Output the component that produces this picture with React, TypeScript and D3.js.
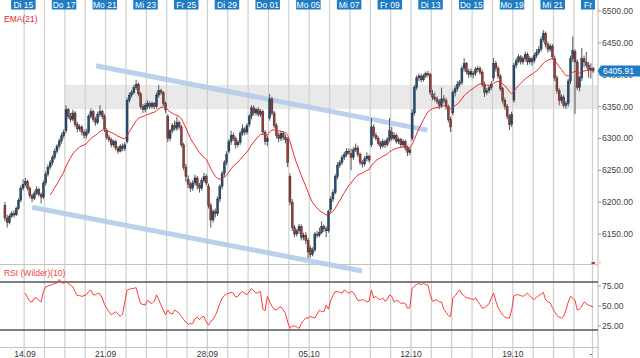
import React from "react";
import * as d3 from "d3";

const W = 640;
const H = 358;
const FONT = "'Liberation Sans', Arial, sans-serif";

// ---- axis / label data ----
const topDayLabels = ["Di 15", "Do 17", "Mo 21", "Mi 23", "Fr 25", "Di 29", "Do 01", "Mo 05", "Mi 07", "Fr 09", "Di 13", "Do 15", "Mo 19", "Mi 21", "Fr"];
const topDayIdx = [1, 3, 5, 7, 9, 11, 13, 15, 17, 19, 21, 23, 25, 27, 29];
const weekLabels = ["14.09", "21.09", "28.09", "05.10", "12.10", "19.10"];
const weekIdx = [0, 5, 10, 15, 20, 25];
const priceTicks = [6150, 6200, 6250, 6300, 6350, 6400, 6450, 6500];
const rsiTicks = [25, 50, 75];
const rsiBands = [20, 80];
const CPD = 9; // hourly candles per trading day
const NDAYS = 29;

// ---- OHLC data (hourly) ----
const dayOpens = [6195, 6228, 6230, 6312, 6305, 6312, 6295, 6350, 6335, 6236, 6225, 6280, 6322, 6332, 6240, 6128, 6188, 6276, 6290, 6310, 6300, 6370, 6340, 6400, 6395, 6360, 6422, 6425, 6436];

const closes = [
  6175, 6168, 6178, 6182, 6180, 6190, 6203, 6222, 6228,
  6232, 6222, 6210, 6206, 6214, 6220, 6212, 6208, 6230,
  6244, 6255, 6262, 6270, 6280, 6288, 6296, 6304, 6310,
  6345, 6335, 6330, 6340, 6322, 6315, 6318, 6310, 6305,
  6310, 6335, 6342, 6330, 6325, 6338, 6342, 6335, 6315,
  6302, 6298, 6290, 6295, 6285, 6280, 6288, 6284, 6290,
  6360, 6368, 6372, 6380, 6385, 6370, 6350, 6345, 6352,
  6355, 6350, 6355, 6350, 6368, 6375, 6372, 6355, 6345,
  6300, 6312, 6320, 6316, 6325, 6318, 6290, 6255, 6240,
  6228, 6222, 6230, 6238, 6226, 6222, 6234, 6240, 6230,
  6195, 6172, 6185, 6182, 6205, 6225, 6245, 6262, 6275,
  6295, 6305, 6300, 6290, 6294, 6308, 6315, 6310, 6320,
  6335, 6348, 6340, 6345, 6338, 6342, 6310, 6295, 6300,
  6362, 6340, 6320, 6305, 6300, 6308, 6302, 6298, 6262,
  6200, 6160, 6150, 6155, 6162, 6145, 6148, 6140, 6122,
  6118, 6125, 6150, 6148, 6152, 6162, 6158, 6155, 6185,
  6205, 6215, 6240, 6258, 6262, 6270, 6275, 6280, 6278,
  6270, 6282, 6285, 6275, 6262, 6260, 6268, 6272, 6266,
  6318, 6305, 6300, 6292, 6288, 6295, 6290, 6298, 6312,
  6300, 6305, 6295, 6298, 6290, 6295, 6285, 6278, 6282,
  6340, 6380, 6395, 6398, 6392, 6398, 6402, 6400, 6372,
  6365, 6362, 6358, 6352, 6362, 6360, 6350, 6330, 6318,
  6372, 6378, 6385, 6388, 6410, 6418, 6405, 6400, 6405,
  6402, 6408, 6410, 6404, 6385, 6372, 6375, 6380, 6385,
  6418, 6410, 6398, 6378, 6360, 6350, 6335, 6322, 6338,
  6415, 6422, 6428, 6420, 6425, 6432, 6420, 6425, 6420,
  6430, 6435, 6440, 6455, 6465, 6448, 6440, 6445, 6428,
  6395, 6375, 6360, 6365, 6352, 6355, 6390, 6425, 6438,
  6420, 6380, 6395, 6425, 6420, 6415, 6408, 6410, 6405.91,
];

const highs = [
  6200, 6180, 6181, 6186, 6187, 6193, 6206, 6226, 6236,
  6238, 6235, 6225, 6213, 6218, 6225, 6223, 6215, 6234,
  6248, 6259, 6266, 6274, 6284, 6291, 6300, 6308, 6314,
  6352, 6348, 6340, 6345, 6343, 6326, 6322, 6321, 6314,
  6315, 6338, 6347, 6345, 6334, 6342, 6352, 6345, 6338,
  6316, 6306, 6301, 6298, 6298, 6288, 6291, 6292, 6294,
  6364, 6372, 6376, 6384, 6392, 6388, 6373, 6354, 6356,
  6360, 6358, 6358, 6357, 6372, 6384, 6378, 6374, 6358,
  6338, 6315, 6324, 6328, 6334, 6328, 6321, 6293, 6260,
  6242, 6232, 6234, 6243, 6241, 6230, 6238, 6246, 6244,
  6229, 6199, 6189, 6190, 6209, 6228, 6249, 6266, 6280,
  6299, 6312, 6309, 6303, 6298, 6312, 6322, 6318, 6324,
  6338, 6352, 6352, 6348, 6349, 6346, 6345, 6313, 6304,
  6370, 6365, 6343, 6324, 6309, 6312, 6311, 6306, 6302,
  6245, 6205, 6164, 6158, 6166, 6165, 6152, 6153, 6144,
  6132, 6129, 6153, 6155, 6160, 6170, 6165, 6162, 6188,
  6209, 6220, 6244, 6262, 6266, 6274, 6279, 6285, 6284,
  6284, 6286, 6292, 6289, 6278, 6266, 6272, 6278, 6275,
  6332, 6322, 6309, 6304, 6296, 6299, 6298, 6302, 6332,
  6318, 6310, 6308, 6302, 6301, 6299, 6298, 6289, 6286,
  6346, 6384, 6399, 6402, 6401, 6401, 6405, 6406, 6403,
  6376, 6372, 6366, 6362, 6380, 6368, 6364, 6353, 6334,
  6376, 6383, 6390, 6392, 6414, 6426, 6420, 6409, 6410,
  6406, 6412, 6414, 6413, 6407, 6389, 6379, 6384, 6390,
  6426, 6422, 6414, 6401, 6381, 6364, 6354, 6338, 6342,
  6419, 6426, 6432, 6431, 6429, 6436, 6435, 6429, 6428,
  6434, 6440, 6445, 6460, 6470, 6468, 6452, 6449, 6448,
  6430, 6399, 6379, 6369, 6368, 6359, 6394, 6430, 6460,
  6440, 6424, 6398, 6442, 6430, 6436, 6420, 6418, 6412,
];

const lows = [
  6170, 6160, 6165, 6175, 6176, 6178, 6188, 6200, 6218,
  6224, 6218, 6206, 6200, 6203, 6211, 6209, 6198, 6205,
  6226, 6240, 6251, 6258, 6267, 6276, 6284, 6292, 6300,
  6308, 6331, 6326, 6327, 6318, 6310, 6311, 6305, 6300,
  6300, 6307, 6331, 6326, 6320, 6322, 6334, 6330, 6310,
  6298, 6294, 6286, 6287, 6281, 6276, 6278, 6280, 6280,
  6292, 6356, 6364, 6369, 6376, 6366, 6346, 6340, 6341,
  6346, 6346, 6347, 6346, 6347, 6364, 6368, 6351, 6340,
  6294, 6296, 6308, 6312, 6312, 6314, 6286, 6250, 6232,
  6222, 6216, 6218, 6226, 6220, 6215, 6218, 6230, 6226,
  6190, 6160, 6168, 6176, 6178, 6200, 6220, 6240, 6258,
  6276, 6290, 6296, 6284, 6286, 6290, 6304, 6305, 6306,
  6318, 6330, 6336, 6336, 6334, 6334, 6306, 6290, 6288,
  6328, 6336, 6316, 6300, 6294, 6296, 6297, 6292, 6255,
  6195, 6155, 6145, 6146, 6150, 6140, 6140, 6134, 6112,
  6113, 6115, 6122, 6144, 6145, 6150, 6153, 6145, 6152,
  6184, 6200, 6212, 6236, 6254, 6258, 6266, 6271, 6274,
  6250, 6266, 6279, 6271, 6258, 6254, 6256, 6264, 6262,
  6286, 6301, 6297, 6289, 6283, 6285, 6285, 6287, 6294,
  6296, 6297, 6292, 6291, 6286, 6286, 6281, 6272, 6274,
  6296, 6336, 6376, 6390, 6388, 6389, 6395, 6396, 6368,
  6360, 6358, 6354, 6346, 6348, 6355, 6345, 6325, 6310,
  6336, 6366, 6374, 6381, 6384, 6405, 6401, 6395, 6396,
  6394, 6398, 6404, 6400, 6381, 6365, 6368, 6371, 6376,
  6390, 6405, 6394, 6374, 6355, 6345, 6330, 6313, 6318,
  6356, 6410, 6418, 6416, 6416, 6421, 6415, 6416, 6414,
  6418, 6426, 6431, 6436, 6451, 6443, 6435, 6436, 6424,
  6390, 6370, 6352, 6355, 6348, 6346, 6350, 6385, 6420,
  6338, 6376, 6374, 6390, 6412, 6410, 6395, 6394, 6403,
];

// RSI (Wilder)(10) values, starting at candle RSI_START
const RSI_START = 9;
const rsiValues = [
  66, 60, 56, 55, 60, 60, 57, 55, 68,
  74, 75, 76, 77, 78, 79, 83, 80, 78,
  81, 78, 76, 74, 68, 63, 63, 62, 63,
  64, 68, 70, 64, 64, 66, 65, 60, 52,
  47, 43, 39, 41, 43, 40, 37, 40, 55,
  70, 71, 72, 72, 73, 62, 53, 52, 51,
  57, 55, 53, 56, 64, 58, 51, 45, 39,
  45, 41, 40, 45, 43, 41, 37, 33, 30,
  27, 28, 28, 34, 36, 33, 36, 37, 30,
  26, 31, 33, 38, 45, 53, 60, 63, 65,
  66, 67, 66, 61, 62, 66, 68, 66, 64,
  68, 72, 69, 66, 67, 68, 46, 44, 62,
  55, 50, 46, 45, 48, 49, 45, 41, 30,
  22, 25, 25, 24, 22, 28, 32, 35, 35,
  37, 36, 35, 40, 45, 43, 43, 51, 46,
  57, 63, 68, 68, 67, 66, 70, 68, 66,
  68, 67, 62, 57, 57, 58, 57, 55, 56,
  70, 60, 62, 59, 58, 60, 56, 58, 64,
  62, 55, 57, 56, 53, 54, 53, 47, 48,
  72, 75, 77, 78, 77, 78, 77, 76, 64,
  56, 57, 58, 55, 55, 46, 42, 38, 37,
  60, 63, 67, 70, 65, 63, 60, 60, 59,
  58, 60, 56, 52, 47, 48, 50, 53, 60,
  66, 56, 48, 43, 39, 36, 35, 35, 45,
  63, 64, 64, 63, 62, 64, 66, 63, 60,
  58, 61, 63, 65, 67, 58, 55, 54, 48,
  43, 38, 36, 35, 37, 45, 55, 62, 60,
  57, 45, 46, 50, 55, 53, 51, 50, 49,
];

// drawn objects in data coordinates (day index, price)
const zone = { fromDay: 3, low: 6346, high: 6384 };
const upperChannel = [{ day: 4.53, price: 6414 }, { day: 20.8, price: 6313 }];
const lowerChannel = [{ day: 1.39, price: 6192 }, { day: 17.6, price: 6092 }];
const EMA_PERIOD = 21;

function ema(values: number[], n: number): (number | null)[] {
  const k = 2 / (n + 1);
  const out: (number | null)[] = [];
  let prev = 0;
  values.forEach((v, i) => {
    if (i < n - 1) out.push(null);
    else if (i === n - 1) {
      prev = d3.mean(values.slice(0, n)) as number;
      out.push(prev);
    } else {
      prev = v * k + prev * (1 - k);
      out.push(prev);
    }
  });
  return out;
}

export default function App() {
  const plotRight = 598;
  const x0 = 3.8;
  const dayW = 20.36;
  const xDay = d3.scaleLinear().domain([0, NDAYS]).range([x0, x0 + NDAYS * dayW]);
  const xC = d3.scaleLinear().domain([0, NDAYS * CPD]).range([x0, x0 + NDAYS * dayW]);
  const yP = d3.scaleLinear().domain([6150, 6500]).range([234, 11]);
  const yR = d3.scaleLinear().domain([0, 100]).range([346, 266]);

  const candles = closes.map((c, i) => {
    const day = Math.floor(i / CPD);
    const o = i % CPD === 0 ? dayOpens[day] : closes[i - 1];
    return { i, o, c, h: highs[i], l: lows[i] };
  });

  const emaVals = ema(closes, EMA_PERIOD);
  const emaLine = d3
    .line<number | null>()
    .defined((d) => d !== null)
    .x((_, i) => xC(i + 0.5))
    .y((d) => yP(d as number))(emaVals) as string;

  const rsiLine = d3
    .line<number>()
    .x((_, i) => xC(RSI_START + i + 0.5))
    .y((d) => yR(d))(rsiValues) as string;

  const chanLine = (pts: { day: number; price: number }[]) =>
    d3
      .line<{ day: number; price: number }>()
      .x((d) => xDay(d.day))
      .y((d) => yP(d.price))(pts) as string;

  const lastPrice = closes[closes.length - 1];
  const bodyW = 2;
  const gridDays = d3.range(1, NDAYS);

  return (
    <svg
      width={W}
      height={H}
      style={{ position: "absolute", left: 0, top: 0, background: "#fff", fontFamily: FONT }}
    >
      <rect x={0} y={0} width={W} height={H} fill="#fff" />
      {/* support zone */}
      <rect
        x={xDay(zone.fromDay)}
        y={yP(zone.high)}
        width={plotRight - xDay(zone.fromDay)}
        height={yP(zone.low) - yP(zone.high)}
        fill="#e9e9e9"
      />
      {/* day grid */}
      {gridDays.map((d) => (
        <line key={"g" + d} x1={xDay(d)} x2={xDay(d)} y1={0} y2={H} stroke="#cfcfcf" strokeWidth={1.2} />
      ))}
      <line x1={592.5} x2={592.5} y1={0} y2={H} stroke="#cfcfcf" strokeWidth={1.2} />
      {/* panel separators */}
      <line x1={0} x2={plotRight} y1={264.5} y2={264.5} stroke="#c4c4c4" />
      <line x1={0} x2={plotRight} y1={347.5} y2={347.5} stroke="#c4c4c4" />
      <line x1={plotRight} x2={plotRight} y1={0} y2={H} stroke="#bdbdbd" />

      {/* channel lines */}
      <path d={chanLine(upperChannel)} stroke="#b3cbea" strokeWidth={5} fill="none" opacity={0.9} />
      <path d={chanLine(lowerChannel)} stroke="#b3cbea" strokeWidth={5} fill="none" opacity={0.9} />

      {/* candles */}
      {candles.map((k) => {
        const cx = xC(k.i + 0.5);
        const up = k.c >= k.o;
        const top = yP(Math.max(k.o, k.c));
        const bot = yP(Math.min(k.o, k.c));
        return (
          <g key={"c" + k.i}>
            <line x1={cx} x2={cx} y1={yP(k.h)} y2={yP(k.l)} stroke="#555" strokeWidth={1} />
            <rect
              x={cx - bodyW / 2}
              y={top}
              width={bodyW}
              height={Math.max(1, bot - top)}
              fill={up ? "#1d4f7c" : "#9e3a37"}
              stroke="#262626"
              strokeWidth={0.4}
            />
          </g>
        );
      })}

      {/* EMA */}
      <path d={emaLine} stroke="#ec2a2f" strokeWidth={1} fill="none" />

      {/* RSI panel */}
      {rsiBands.map((v) => (
        <line key={"b" + v} x1={0} x2={plotRight} y1={yR(v)} y2={yR(v)} stroke="#555" strokeWidth={1.6} />
      ))}
      <path d={rsiLine} stroke="#ff3b36" strokeWidth={1} fill="none" />
      <text x={4} y={275.5} fontSize={8.5} fill="#f0443f">RSI (Wilder)(10)</text>

      {/* top day labels */}
      {topDayLabels.map((lab, j) => {
        const w = lab.length <= 2 ? 14 : 24.5;
        let cx = xDay(topDayIdx[j]) - 0.8;
        if (cx + w / 2 > 595) cx = 595 - w / 2;
        return (
          <g key={"t" + j}>
            <rect x={cx - w / 2} y={0} width={w} height={9.5} fill="#1f7cc3" />
            <text x={cx} y={8} fontSize={8.5} fill="#fff" textAnchor="middle">{lab}</text>
          </g>
        );
      })}
      <text x={4} y={21.5} fontSize={8.5} fill="#e4232b">EMA(21)</text>

      {/* bottom week labels */}
      {weekLabels.map((lab, j) => (
        <text key={"w" + j} x={Math.max(xDay(weekIdx[j]), 25)} y={356.5} fontSize={8.5} fill="#333" textAnchor="middle">
          {lab}
        </text>
      ))}
      <text x={591} y={356.5} fontSize={8.5} fill="#333" textAnchor="middle">-</text>

      {/* right price axis */}
      {priceTicks.map((v) => (
        <g key={"p" + v}>
          <line x1={plotRight} x2={plotRight + 3} y1={yP(v)} y2={yP(v)} stroke="#999" />
          <text x={602} y={yP(v) + 3} fontSize={8.6} fill="#444">{v.toFixed(2)}</text>
        </g>
      ))}
      {rsiTicks.map((v) => (
        <g key={"r" + v}>
          <line x1={plotRight} x2={plotRight + 3} y1={yR(v)} y2={yR(v)} stroke="#999" />
          <text x={602} y={yR(v) + 3} fontSize={8.6} fill="#444">{v.toFixed(2)}</text>
        </g>
      ))}

      {/* last price marker */}
      <path
        d={`M${plotRight - 0.5},${yP(lastPrice)} L${plotRight + 3},${yP(lastPrice) - 5.5} L${W},${yP(lastPrice) - 5.5} L${W},${yP(lastPrice) + 5.5} L${plotRight + 3},${yP(lastPrice) + 5.5} Z`}
        fill="#1f7cc3"
      />
      <text x={603} y={yP(lastPrice) + 3.2} fontSize={8.6} fill="#fff">{lastPrice.toFixed(2)}</text>
      <rect x={591.5} y={262} width={3.5} height={2} fill="#c0392b" />
      <circle cx={600} cy={262.5} r={0.8} fill="#f0a030" />
    </svg>
  );
}
